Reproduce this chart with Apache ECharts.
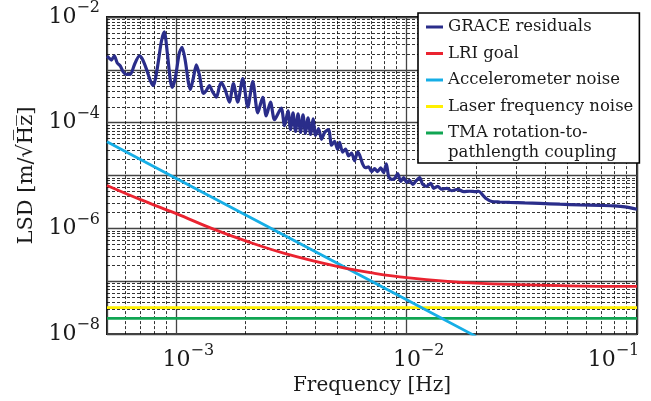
<!DOCTYPE html>
<html><head><meta charset="utf-8">
<script src="https://cdn.jsdelivr.net/npm/echarts@6/dist/echarts.min.js"></script>
<style>html,body{margin:0;padding:0;background:#fff}#c{width:651px;height:401px}</style>
</head><body><div id="c"></div>
<script>
// ---- data ----
const graceFreq = [5.0e-4,5.11e-4,5.22e-4,5.38e-4,5.54e-4,5.71e-4,5.88e-4,6.06e-4,6.31e-4,6.57e-4,
6.91e-4,7.12e-4,7.41e-4,7.71e-4,7.94e-4,8.27e-4,8.61e-4,8.87e-4,9.14e-4,9.42e-4,
9.61e-4,9.90e-4,1.03e-3,1.059e-3,1.094e-3,1.128e-3,1.150e-3,1.186e-3,1.222e-3,1.259e-3,
1.310e-3,1.350e-3,1.391e-3,1.434e-3,1.493e-3,1.538e-3,1.569e-3,1.633e-3,1.700e-3,1.769e-3,
1.847e-3,1.942e-3,2.042e-3,2.147e-3,2.257e-3,2.372e-3,2.455e-3,2.563e-3,2.668e-3,2.853e-3,
2.949e-3,3.054e-3,3.131e-3,3.211e-3,3.292e-3,3.376e-3,3.461e-3,3.548e-3,3.638e-3,3.730e-3,
3.825e-3,3.922e-3,4.021e-3,4.144e-3,4.270e-3,4.400e-3,4.580e-3,4.720e-3,4.864e-3,5.012e-3,
5.113e-3,5.269e-3,5.430e-3,5.595e-3,5.766e-3,5.941e-3,6.124e-3,6.248e-3,6.437e-3,6.633e-3,
6.836e-3,7.043e-3,7.259e-3,7.480e-3,7.709e-3,7.943e-3,8.160e-3,8.350e-3,8.607e-3,8.867e-3,
9.140e-3,9.417e-3,9.705e-3,1.0e-2,1.030e-2,1.062e-2,1.094e-2,1.139e-2,1.174e-2,1.222e-2,
1.272e-2,1.310e-2,1.364e-2,1.420e-2,1.493e-2,1.569e-2,1.666e-2,1.769e-2,1.879e-2,1.995e-2,
2.056e-2,2.140e-2,2.228e-2,2.342e-2,2.537e-2,2.804e-2,3.258e-2,3.787e-2,4.626e-2,5.652e-2,
6.906e-2,8.024e-2,8.868e-2,0.1];
const graceLSD = [1.817e-3,1.668e-3,1.532e-3,1.840e-3,1.348e-3,1.186e-3,9.18e-4,8.18e-4,8.18e-4,1.238e-3,
1.840e-3,1.598e-3,1.043e-3,6.26e-4,5.05e-4,1.089e-3,3.44e-3,5.21e-3,2.064e-3,6.26e-4,
4.64e-4,7.11e-4,2.064e-3,2.667e-3,1.468e-3,5.74e-4,4.26e-4,7.11e-4,1.238e-3,8.08e-4,
3.59e-4,4.08e-4,5.05e-4,3.91e-4,3.03e-4,4.84e-4,5.74e-4,4.08e-4,2.448e-4,5.50e-4,
2.448e-4,6.81e-4,1.978e-4,5.99e-4,1.532e-4,3.03e-4,1.348e-4,2.448e-4,1.137e-4,1.896e-4,
8.80e-5,1.668e-4,7.42e-5,1.532e-4,6.81e-5,1.468e-4,6.53e-5,1.406e-4,6.26e-5,1.238e-4,
5.99e-5,1.186e-4,5.74e-5,7.74e-5,4.84e-5,6.53e-5,7.42e-5,3.75e-5,4.45e-5,3.16e-5,
4.26e-5,2.783e-5,3.16e-5,2.346e-5,2.667e-5,1.896e-5,2.783e-5,2.448e-5,1.668e-5,1.406e-5,
1.468e-5,1.186e-5,1.348e-5,1.186e-5,1.406e-5,1.137e-5,1.668e-5,9.58e-6,8.43e-6,8.80e-6,
1.089e-5,7.74e-6,9.18e-6,7.42e-6,8.08e-6,6.81e-6,7.74e-6,9.18e-6,6.81e-6,6.26e-6,
7.11e-6,5.74e-6,6.26e-6,5.50e-6,5.74e-6,5.16e-6,5.50e-6,4.95e-6,5.05e-6,4.95e-6,
5.05e-6,4.26e-6,3.59e-6,3.23e-6,3.16e-6,3.10e-6,3.03e-6,2.97e-6,2.87e-6,2.78e-6,
2.72e-6,2.67e-6,2.56e-6,2.30e-6];

const lriFreq = [5e-4,7e-4,1e-3,1.44e-3,2e-3,3e-3,5.1e-3,7e-3,1e-2,2e-2,5e-2,0.1];
const lriLSD  = [6.5e-6,3.5e-6,1.9e-6,9.8e-7,5.8e-7,3.3e-7,1.87e-7,1.45e-7,1.17e-7,9.2e-8,8.2e-8,8.0e-8];

const accFreq = [5e-4,1e-3,1e-2,2e-2];
const accLSD  = [4.36e-5,8.83e-6,4.45e-8,9.05e-9];

const laserFreq = [5e-4,0.1];
const laserLSD  = [3.16e-8,3.16e-8];

const tmaFreq = [5e-4,0.1];
const tmaLSD  = [1.98e-8,1.98e-8];

const seriesNames = ['GRACE residuals','LRI goal','Accelerometer noise','Laser frequency noise','TMA rotation-to-pathlength coupling'];

const xRange = [5e-4, 0.1];
const yRange = [1e-8, 1e-2];
const xMinorTicks = [6e-4,7e-4,8e-4,9e-4,2e-3,3e-3,4e-3,5e-3,6e-3,7e-3,8e-3,9e-3,2e-2,3e-2,4e-2,5e-2,6e-2,7e-2,8e-2,9e-2];
const yMinorTicks = [2e-8,3e-8,4e-8,5e-8,6e-8,7e-8,8e-8,9e-8,
  2e-7,3e-7,4e-7,5e-7,6e-7,7e-7,8e-7,9e-7,
  2e-6,3e-6,4e-6,5e-6,6e-6,7e-6,8e-6,9e-6,
  2e-5,3e-5,4e-5,5e-5,6e-5,7e-5,8e-5,9e-5,
  2e-4,3e-4,4e-4,5e-4,6e-4,7e-4,8e-4,9e-4,
  2e-3,3e-3,4e-3,5e-3,6e-3,7e-3,8e-3,9e-3];

// ---- chart ----
const FONT = 'DejaVu Serif';
const TXT = '#1a1a1a';
const zip = (a, b) => a.map((v, i) => [v, b[i]]);
function decade(v) {
  const l = Math.log10(v), e = Math.round(l);
  return Math.abs(l - e) < 0.01 ? e : null;
}
const baseRich = {
  b: {fontFamily: FONT, fontSize: 22, color: TXT},
  bp: {fontFamily: FONT, fontSize: 22, color: TXT, padding: [0, 0, 0, 24]},
  s: {fontFamily: FONT, fontSize: 16, color: TXT, padding: [0, 0, 18, 0]},
  sr: {fontFamily: FONT, fontSize: 16, color: TXT, padding: [0, 47, 18, 0]}
};
const chart = echarts.init(document.getElementById('c'), null, {renderer: 'canvas'});
const colors = ['#2a2d8a', '#ea2330', '#16aee6', '#fff000', '#10a552'];
const mk = (i, data, w, smooth) => ({
  name: seriesNames[i], type: 'line', data: data, showSymbol: false, symbol: 'none',
  smooth: smooth, color: colors[i], lineStyle: {color: colors[i], width: w}, z: 3, clip: true
});
const minorLines = xMinorTicks.map(x => ({coords: [[x, yRange[0]], [x, yRange[1]]]}))
  .concat(yMinorTicks.map(y => ({coords: [[xRange[0], y], [xRange[1], y]]})));
chart.setOption({
  animation: false,
  backgroundColor: '#fff',
  grid: {left: 107, right: 14, top: 13, bottom: 64, show: true, borderColor: '#000', borderWidth: 1.8, backgroundColor: 'transparent'},
  xAxis: {
    type: 'log', logBase: 10, min: xRange[0], max: xRange[1],
    name: 'Frequency [Hz]', nameLocation: 'middle', nameGap: 34,
    nameTextStyle: {fontFamily: FONT, fontSize: 20, color: TXT},
    axisLine: {show: false}, axisTick: {show: false},
    splitLine: {show: true, lineStyle: {color: '#444', width: 1.3, type: 'solid'}},
    axisLabel: {
      margin: 9, rich: baseRich,
      formatter: v => {
        const e = decade(v);
        if (e === null) return '';
        if (e === -1) return '{b|10}{sr|\u2212' + (-e) + '}';
        return '{bp|10}{s|\u2212' + (-e) + '}';
      }
    }
  },
  yAxis: {
    type: 'log', logBase: 10, min: yRange[0], max: yRange[1],
    name: 'LSD [m/\u221AH\u0305z\u0305]', nameLocation: 'middle', nameGap: 59, nameRotate: 90,
    nameTextStyle: {fontFamily: FONT, fontSize: 21, color: TXT},
    axisLine: {show: false}, axisTick: {show: false},
    splitLine: {show: true, lineStyle: {color: '#444', width: 1.3, type: 'solid'}},
    axisLabel: {
      margin: 7, rich: baseRich,
      formatter: v => {
        const e = decade(v);
        if (e === null || e % 2 !== 0) return '';
        return '{b|10}{s|\u2212' + (-e) + '}';
      }
    }
  },
  legend: {
    data: seriesNames, orient: 'vertical', left: 418, top: 13,
    itemWidth: 17, itemHeight: 3, icon: 'rect', itemGap: 6.5,
    padding: [4, 6, 20, 8],
    backgroundColor: '#fff', borderColor: '#000', borderWidth: 1.6, borderRadius: 0,
    selectedMode: false,
    textStyle: {fontFamily: FONT, fontSize: 16.5, color: TXT, lineHeight: 20},
    formatter: n => n === seriesNames[4] ? 'TMA rotation-to-' : n
  },
  graphic: [{
    type: 'text', left: 448, top: 144, z: 100,
    style: {text: 'pathlength coupling', font: '16.5px "DejaVu Serif"', fill: TXT}
  }],
  series: [
    {
      name: 'minor grid', type: 'lines', coordinateSystem: 'cartesian2d',
      data: minorLines, z: 1, silent: true, polyline: false,
      lineStyle: {color: '#000', width: 0.8, type: [3, 2], opacity: 1}
    },
    mk(4, zip(tmaFreq, tmaLSD), 2.8, false),
    mk(3, zip(laserFreq, laserLSD), 2.8, false),
    mk(2, zip(accFreq, accLSD), 2.8, false),
    mk(1, zip(lriFreq, lriLSD), 2.8, 0.4),
    mk(0, zip(graceFreq, graceLSD), 3.2, 0.25)
  ]
});
</script></body></html>
